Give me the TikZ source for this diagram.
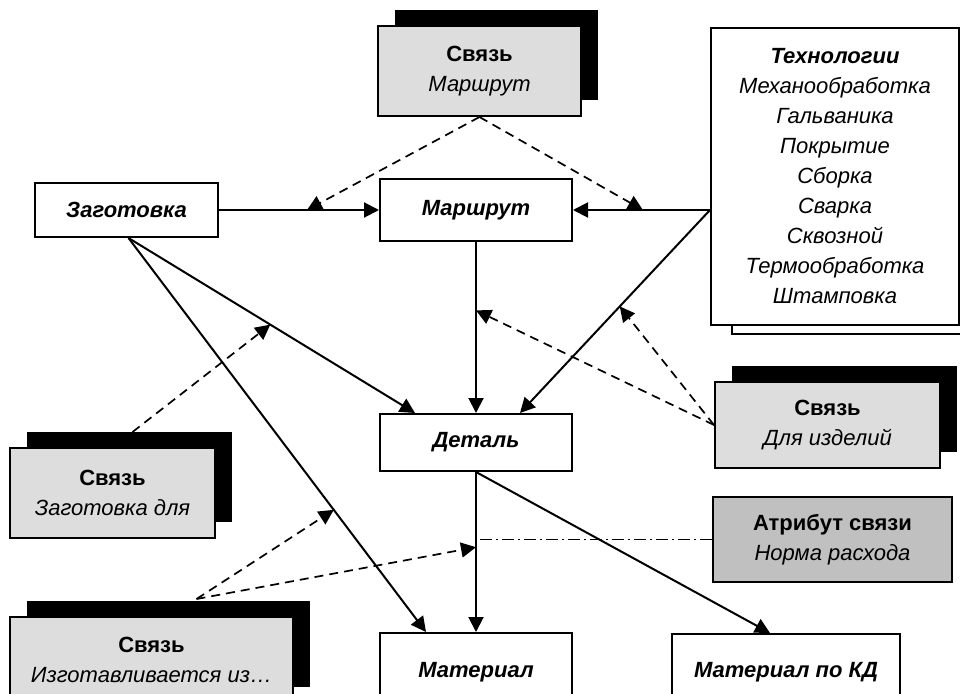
\documentclass[tikz,border=0pt]{standalone}
\usepackage{fontspec}
\setmainfont{Liberation Sans}
\usetikzlibrary{arrows.meta,shadows,calc}
\definecolor{linkfill}{HTML}{DDDDDD}
\definecolor{attrfill}{HTML}{C0C0C0}
\begin{document}
\begin{tikzpicture}[x=1pt,y=-1pt,
  entity/.style={draw, line width=2pt, fill=white, inner sep=0pt, align=center,
    font=\fontsize{22}{30}\selectfont\bfseries\itshape},
  linkbox/.style={draw, line width=2pt, fill=linkfill, inner sep=0pt, align=center,
    font=\fontsize{22}{30}\selectfont,
    drop shadow={shadow xshift=17pt, shadow yshift=16pt, fill=black, opacity=1}},
  attrbox/.style={draw, line width=2pt, fill=attrfill, inner sep=0pt, align=center,
    font=\fontsize{22}{30}\selectfont},
  listbox/.style={draw, line width=2pt, fill=white, inner sep=0pt, align=center,
    font=\fontsize{22}{30}\selectfont,
    copy shadow={shadow xshift=21pt, shadow yshift=-9pt, draw, fill=white, line width=2pt}},
  arr/.style={line width=2pt, -{Triangle[length=15pt,width=15pt]}},
  link/.style={line width=1.7pt, dash pattern=on 9pt off 6pt, -{Triangle[length=15pt,width=15pt]}},
  attrline/.style={line width=1.4pt, dash pattern=on 12pt off 4pt on 2pt off 4pt},
]
\fill[white] (0,0) rectangle (960,693);
\useasboundingbox (0,0) rectangle (960,693);

% entities
\node[entity, minimum width=183pt, minimum height=54pt] (zag) at (126.5,210) {Заготовка};
\node[entity, minimum width=192pt, minimum height=62pt] (mar) at (476,210) {Маршрут};
\node[entity, minimum width=192pt, minimum height=57pt] (det) at (476,442.5) {Деталь};
\node[entity, minimum width=192pt, minimum height=78pt] (mat) at (476,672) {Материал};
\node[entity, minimum width=228pt, minimum height=76pt] (matkd) at (786,672) {Материал по КД};

% technologies list
\node[listbox, minimum width=248pt, minimum height=297pt] (tech) at (835,176.5)
  {{\bfseries\itshape Технологии}\\ \itshape Механообработка\\ \itshape Гальваника\\
   \itshape Покрытие\\ \itshape Сборка\\ \itshape Сварка\\ \itshape Сквозной\\
   \itshape Термообработка\\ \itshape Штамповка};

% relation boxes
\node[linkbox, minimum width=203pt, minimum height=90pt] (svM) at (479.5,71)
  {{\bfseries Связь}\\ \itshape Маршрут};
\node[linkbox, minimum width=225pt, minimum height=86pt] (svD) at (827.5,425)
  {{\bfseries Связь}\\ \itshape Для изделий};
\node[linkbox, minimum width=205pt, minimum height=90pt] (svZ) at (112.5,493)
  {{\bfseries Связь}\\ \itshape Заготовка для};
\node[linkbox, minimum width=283pt, minimum height=86pt] (svI) at (151.5,660)
  {{\bfseries Связь}\\ \itshape Изготавливается из…};
\node[attrbox, minimum width=239pt, minimum height=85pt] (attr) at (832.5,539.5)
  {{\bfseries Атрибут связи}\\ \itshape Норма расхода};

% solid connectors
\coordinate (tj) at (mar.east -| tech.west);
\coordinate (zs) at ($(zag.south)+(2,0)$);
\draw[arr] (zag.east) -- coordinate[pos=0.55] (p1) (mar.west);
\draw[arr] (tj) -- coordinate[pos=0.49] (p2) (mar.east);
\draw[arr] (tj) -- coordinate[pos=0.475] (p5) ($(det.north)+(44,0)$);
\draw[arr] (zs) -- coordinate[pos=0.495] (p3) ($(det.north)+(-61,0)$);
\draw[arr] (zs) -- coordinate[pos=0.69] (p6) ($(mat.north)+(-50,0)$);
\draw[arr] (mar.south) -- coordinate[pos=0.4] (p4) (det.north);
\draw[arr] (det.south) -- coordinate[pos=0.47] (p7) (mat.north);
\draw[arr] (det.south) -- ($(matkd.north)+(-16,0)$);

% attribute of the relation
\draw[attrline] (attr.west) -- (attr.west -| det.south);

% relation links
\coordinate (zl) at ($(svZ.north)+(20,-15)$);
\coordinate (il) at ($(svI.north)+(45,-17)$);
\draw[link] (svM.south) -- (p1);
\draw[link] (svM.south) -- (p2);
\draw[link] (zl) -- (p3);
\draw[link] (svD.west) -- (p4);
\draw[link] (svD.west) -- (p5);
\draw[link] (il) -- (p6);
\draw[link] (il) -- (p7);
\end{tikzpicture}
\end{document}
